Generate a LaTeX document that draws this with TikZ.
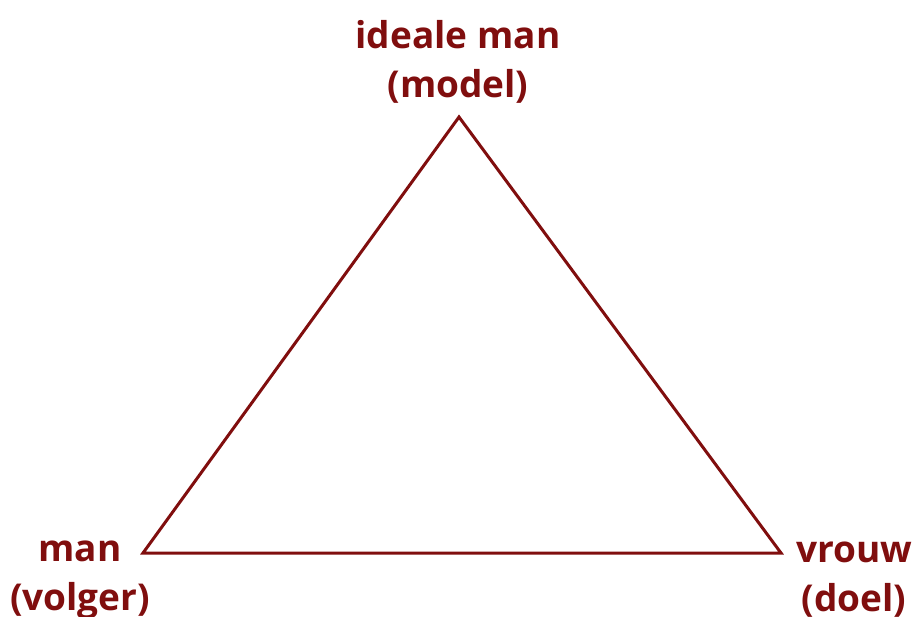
\documentclass[tikz,border=0pt]{standalone}
\usepackage{fontspec}
\setmainfont{Open Sans}
\definecolor{darkred}{RGB}{128,14,14}
\begin{document}
\begin{tikzpicture}[x=1pt,y=-1pt,
  lbl/.style={text=darkred,font=\fontsize{37}{49}\selectfont\bfseries,align=center,inner sep=0pt},
  tri/.style={draw=darkred,line width=3pt,line join=miter}]
\useasboundingbox (0,0) rectangle (915,616);
\coordinate (top) at (459,117);
\coordinate (left) at (143,553);
\coordinate (right) at (781,553);
\draw[tri] (top) -- (left) -- (right) -- cycle;
\node[lbl] (ltop) at (458,62) {ideale man\\(model)};
\node[lbl] (lleft) at (80,580) {man\\(volger)};
\node[lbl] (lright) at (854,580) {vrouw\\(doel)};
\end{tikzpicture}
\end{document}
